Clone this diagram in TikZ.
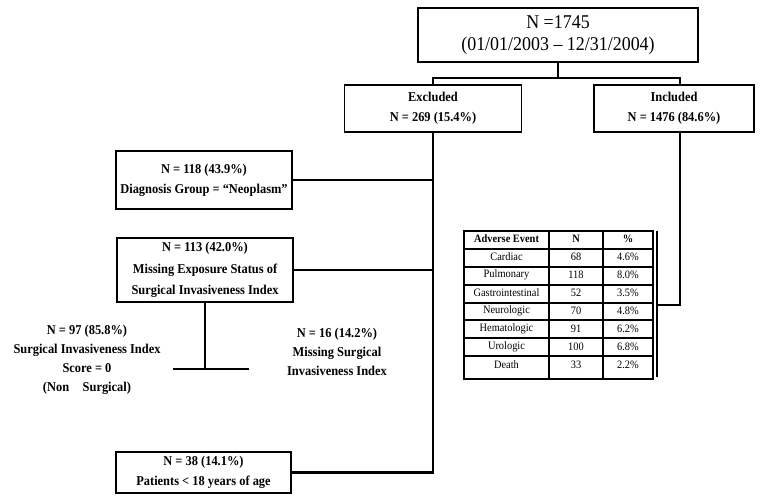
\documentclass[tikz,border=0pt]{standalone}
\usepackage{fontspec}
\setmainfont[FakeStretch=0.92]{Liberation Serif}
\tikzset{
  box/.style={draw,line width=1.6pt,align=center,inner sep=0pt,
    font=\bfseries\fontsize{13.5}{20}\selectfont},
  note/.style={align=center,inner sep=0pt,
    font=\bfseries\fontsize{13.5}{19}\selectfont},
  link/.style={line width=2.6pt},
  grid/.style={line width=1.4pt},
  cell/.style={inner sep=0pt,font=\fontsize{11.3}{12}\selectfont},
  head/.style={cell,font=\bfseries\fontsize{11.3}{12}\selectfont}
}
\begin{document}
\begin{tikzpicture}[x=1pt,y=-1pt]
\useasboundingbox (0,0) rectangle (760,496);

% 总数
\node[box,minimum width=280pt,minimum height=54pt,
  font=\fontsize{19.5}{22.5}\selectfont] (total) at (558,35)
  {N =1745\\(01/01/2003 -- 12/31/2004)};

% 排除 / 纳入
\node[box,minimum width=177pt,minimum height=47pt] (excl) at (433,108.5)
  {Excluded\\N = 269 (15.4\%)};
\node[box,minimum width=160pt,minimum height=47pt] (incl) at (674,108.5)
  {Included\\N = 1476 (84.6\%)};

% 排除原因
\node[box,minimum width=176pt,minimum height=58pt] (neo) at (204,180)
  {N = 118 (43.9\%)\\Diagnosis Group = “Neoplasm”};
\node[box,minimum width=176pt,minimum height=64pt,
  font=\bfseries\fontsize{13.5}{21.5}\selectfont] (miss) at (205,270)
  {N = 113 (42.0\%)\\Missing Exposure Status of\\Surgical Invasiveness Index};
\node[box,minimum width=175pt,minimum height=41pt] (age) at (203.5,472.5)
  {N = 38 (14.1\%)\\Patients < 18 years of age};

% 分支文字
\node[note] (score) at (87,360)
  {N = 97 (85.8\%)\\Surgical Invasiveness Index\\Score = 0\\(Non\quad Surgical)};
\node[note] (nosi) at (337,352)
  {N = 16 (14.2\%)\\Missing Surgical\\Invasiveness Index};

% 连线
\draw[link] (total.south) -- ++(0,15) coordinate (split);
\draw[link] (excl.north) |- (split) -| (680,85) coordinate (tee);
\draw[link] (excl.south) |- (age.east);
\draw[link] (neo.east) -- (neo.east -| excl.south);
\draw[link] (miss.east) -- (miss.east -| excl.south);
\draw[link] (miss.south) -- ++(0,66) coordinate (bar);
\coordinate (barl) at ([xshift=-32pt]bar);
\coordinate (barr) at ([xshift=44pt]bar);
\draw[link] (barl) -- (barr);

% 不良事件表
\coordinate (tab) at (657,305);
\draw[line width=1.8pt] (464,231) rectangle (653,379);
\foreach \y in {249,267,285,303,320,338,356}
  \draw[grid] (464,\y) -- (653,\y);
\foreach \x in {549,603}
  \draw[grid] (\x,231) -- (\x,379);
\draw[grid] (657,231) -- (657,377);
\node[head] (h1) at (506.5,239) {Adverse Event};
\node[head] (h2) at (576,239) {N};
\node[head] (h3) at (628,239) {\%};
\foreach \ev/\n/\p [count=\i] in {Cardiac/68/4.6,Pulmonary/118/8.0,
    Gastrointestinal/52/3.5,Neurologic/70/4.8,Hematologic/91/6.2,
    Urologic/100/6.8,Death/33/2.2}{
  \node[cell] (ev\i) at (506.5,239+18*\i) {\ev};
  \node[cell] (n\i) at (576,239+18*\i) {\n};
  \node[cell] (p\i) at (628,239+18*\i) {\p\%};
}
\draw[link] (incl.south -| tee) |- (tab);
\end{tikzpicture}
\end{document}
